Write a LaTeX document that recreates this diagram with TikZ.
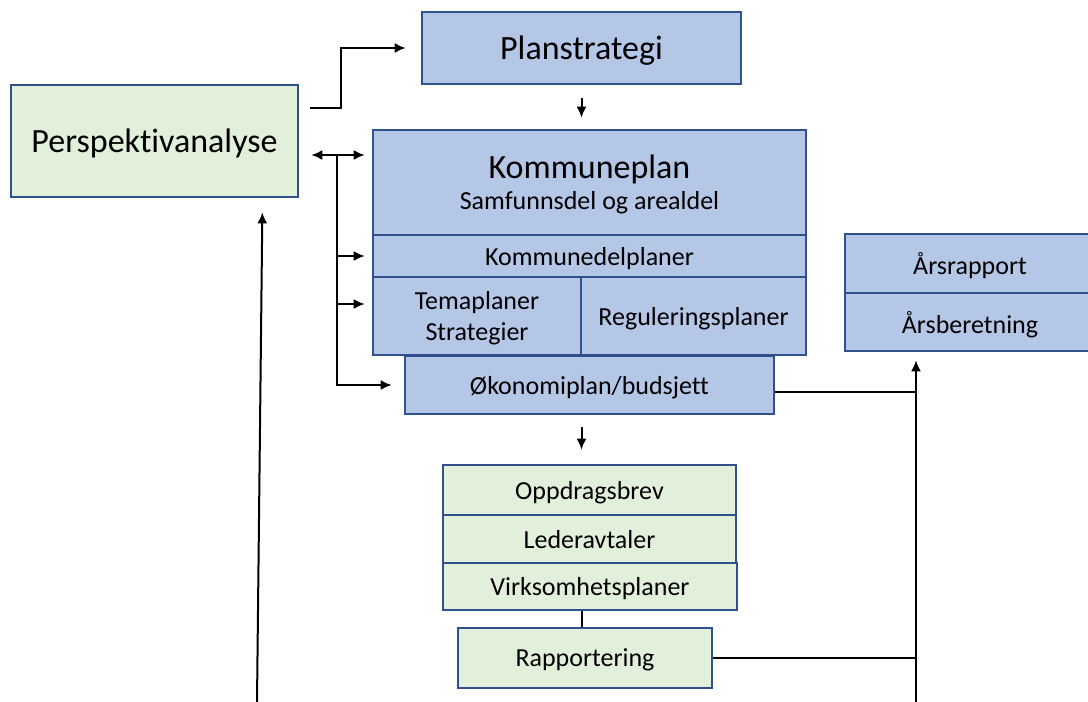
\documentclass[tikz,border=0pt]{standalone}
\usepackage{fontspec}
\setmainfont{Carlito}[Ligatures=NoCommon]
\usetikzlibrary{arrows.meta}
\definecolor{boxblue}{HTML}{B4C7E7}
\definecolor{boxgreen}{HTML}{E2EFDA}
\definecolor{boxline}{HTML}{2F528F}
\tikzset{
    blok/.style={rectangle, draw=boxline, line width=2.6pt, inner sep=0pt, text depth=0pt, align=center, font=\fontsize{26}{31}\selectfont},
    blaa/.style={blok, fill=boxblue},
    groenn/.style={blok, fill=boxgreen},
    stor/.style={font=\fontsize{34}{40}\selectfont},
    pil/.style={->, line width=2pt},
    linje/.style={line width=2pt},
    >={Latex[length=11pt,width=10pt]}
}

\begin{document}
\begin{tikzpicture}[x=1pt, y=-1pt]
    \useasboundingbox (0,0) rectangle (1088,702);

    \node[groenn, stor, minimum width=287pt, minimum height=112pt](persp) at (154.5,141) {Perspektivanalyse};
    \node[blaa, stor, minimum width=319pt, minimum height=72pt](plan)     at (581.5,48) {Planstrategi};
    \node[blaa, minimum width=433pt, minimum height=105pt](kp)            at (589.5,182.5)
        {\fontsize{34}{40}\selectfont Kommuneplan\\\fontsize{26}{35}\selectfont Samfunnsdel og arealdel};
    \node[blaa, minimum width=433pt, minimum height=42pt](kdp)            at (589.5,256) {Kommunedelplaner};
    \node[blaa, minimum width=208pt, minimum height=78pt](tema)           at (477,316) {Temaplaner\\Strategier};
    \node[blaa, minimum width=225pt, minimum height=78pt](reg)            at (693.5,316) {Reguleringsplaner};
    \node[blaa, minimum width=369pt, minimum height=58pt](oko)            at (589.5,385) {Økonomiplan/budsjett};
    \node[blaa, minimum width=250pt, minimum height=59pt](aars)           at (970,263.5) {Årsrapport};
    \node[blaa, minimum width=250pt, minimum height=58pt](aarsb)          at (970,322) {Årsberetning};
    \node[groenn, minimum width=293pt, minimum height=50pt](opp)          at (589.5,490) {Oppdragsbrev};
    \node[groenn, minimum width=293pt, minimum height=48pt](led)          at (589.5,539) {Lederavtaler};
    \node[groenn, minimum width=294pt, minimum height=47pt](virk)         at (590,586.5) {Virksomhetsplaner};
    \node[groenn, minimum width=254pt, minimum height=60pt](rapp)         at (585,658) {Rapportering};

    \coordinate (bus)     at (337,155);
    \coordinate (venstre) at (257,702);
    \coordinate (hoyre)   at (916,702);
    \coordinate (temainn) at ([yshift=12pt]tema.west);
    \coordinate (okout)   at ([yshift=-7pt]oko.east);

    \draw[pil] ([xshift=11pt,yshift=33pt]persp.east) -- ++(31,0) |- ([xshift=-15pt]plan.west);
    \draw[pil, shorten <=13pt, shorten >=11pt] (plan.south) -- (plan.south |- kp.north);
    \draw[pil, <->, shorten <=12pt, shorten >=7pt] (persp.east |- bus) -- (kp.west |- bus);
    \draw[pil, shorten >=12pt] (bus) |- (oko.west);
    \draw[pil, shorten >=7pt] (bus |- kdp.west) -- (kdp.west);
    \draw[pil, shorten >=7pt] (bus |- temainn) -- (temainn);
    \draw[pil, shorten <=12pt, shorten >=14pt] (plan.south |- oko.south) -- (plan.south |- opp.north);
    \draw[linje] (plan.south |- virk.south) -- (plan.south |- rapp.north);
    \draw[linje] (okout) -- (okout -| hoyre);
    \draw[linje] (rapp.east) -- (rapp.east -| hoyre);
    \draw[pil, shorten >=8pt] (hoyre) -- (hoyre |- aarsb.south);
    \draw[pil, shorten >=14pt] (venstre) -- ([xshift=108pt]persp.south);
\end{tikzpicture}
\end{document}
